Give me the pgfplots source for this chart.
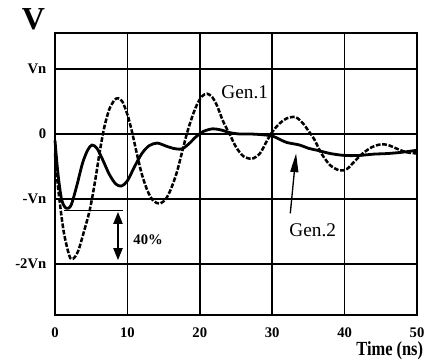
\documentclass[border=0pt]{standalone}
\usepackage{fontspec}
\setmainfont{Liberation Serif}
\usepackage{pgfplots}
\pgfplotsset{compat=1.18}
\usetikzlibrary{arrows.meta}
\begin{document}
\begin{tikzpicture}
\path[use as bounding box] (0,0) rectangle (318pt,270.75pt);
\begin{axis}[at={(41.25pt,34.5pt)}, anchor=south west, scale only axis,
 width=271.5pt, height=211.5pt,
 xmin=0, xmax=50, ymin=-2.785, ymax=1.554,
 xtick={0,10,20,30,40,50}, ytick={-2,-1,0,1}, yticklabels={-2Vn,-Vn,0,Vn},
 grid=major, major grid style={black, line width=1.1pt},
 axis line style={line width=1.8pt},
 major tick length=0pt,
 tick label style={font=\fontsize{11}{12}\selectfont\bfseries},
 /pgf/number format/assume math mode=true,
 xticklabel style={yshift=-6pt}, yticklabel style={xshift=-3pt},
 clip=false]
% Gen.1 (dashed)
\addplot[black, line width=1.9pt, dash pattern=on 3.5pt off 1.3pt, smooth, tension=0.5] coordinates {
(0,-0.3) (0.5,-0.9) (1.2,-1.5) (2.0,-1.88) (2.5,-1.92) (3.2,-1.8) (4.0,-1.5) (4.8,-1.17)
(5.5,-0.75) (6.2,-0.26) (6.8,0.1) (7.5,0.38) (8.2,0.52) (8.7,0.55) (9.3,0.5) (10,0.3)
(10.6,0.05) (11.3,-0.3) (12,-0.62) (12.8,-0.88) (13.6,-1.03) (14.5,-1.07) (15.3,-1.0)
(16,-0.85) (16.8,-0.6) (17.5,-0.3) (18.2,0.0) (18.9,0.25) (19.6,0.45) (20.3,0.58) (21,0.62)
(21.7,0.57) (22.4,0.43) (23.2,0.2) (24.2,-0.02) (25,-0.2) (26,-0.34) (27.2,-0.38) (28.3,-0.3)
(29.2,-0.12) (30,0.03) (31,0.16) (32,0.24) (33.2,0.26) (34.2,0.17) (35,0.05) (35.8,-0.08)
(36.8,-0.3) (38,-0.48) (39.3,-0.56) (40.3,-0.54) (41.3,-0.43) (42.5,-0.3) (43.8,-0.2)
(45,-0.16) (46,-0.17) (47.3,-0.23) (48.5,-0.28) (50,-0.3)};
% Gen.2 (solid)
\addplot[black, line width=2.1pt, smooth, tension=0.5] coordinates {
(0,-0.1) (0.4,-0.6) (0.9,-1.0) (1.5,-1.14) (2.2,-1.1) (3,-0.8) (3.8,-0.45) (4.5,-0.25)
(5.1,-0.17) (5.8,-0.22) (6.6,-0.4) (7.5,-0.62) (8.4,-0.77) (9.2,-0.8) (10,-0.72) (11,-0.5)
(12,-0.3) (13,-0.18) (14.1,-0.14) (15.2,-0.18) (16.3,-0.22) (17.5,-0.23) (18.5,-0.15)
(19.5,-0.04) (20.5,0.04) (21.8,0.08) (23,0.06) (24.2,0.02) (25.5,0.0) (27,0.0) (28.5,-0.01)
(30,-0.03) (31,-0.08) (32,-0.13) (33.8,-0.17) (35,-0.22) (36.2,-0.25) (38,-0.3) (40,-0.33)
(42,-0.33) (44,-0.31) (46,-0.3) (48,-0.28) (50,-0.25)};
% annotations
\draw[line width=1pt] (axis cs:1.2,-1.18) -- (axis cs:9.4,-1.18);
\draw[line width=1pt, {Triangle[length=9pt,width=7pt]}-{Triangle[length=9pt,width=7pt]}] (axis cs:8.7,-1.2) -- (axis cs:8.7,-1.94);
\node[anchor=west, inner sep=0pt, font=\fontsize{11}{12}\selectfont\bfseries] at (axis cs:10.8,-1.63) {40\%};
\node[font=\fontsize{14.5}{16}\selectfont] at (axis cs:26.2,0.65) {Gen.1};
\node[font=\fontsize{14.5}{16}\selectfont] at (axis cs:35.6,-1.48) {Gen.2};
\draw[line width=1pt, -{Triangle[length=14pt,width=6pt]}] (axis cs:32.5,-1.22) -- (axis cs:33.3,-0.3);
\end{axis}
\node[font=\fontsize{24}{26}\selectfont\bfseries] at (25.1pt,256.5pt) {V};
\node[anchor=base east, inner sep=0pt, font=\fontsize{15}{17}\selectfont\bfseries] at (317.5pt,4.5pt) {\scalebox{0.82}[1]{Time (ns)}};
\end{tikzpicture}
\end{document}
